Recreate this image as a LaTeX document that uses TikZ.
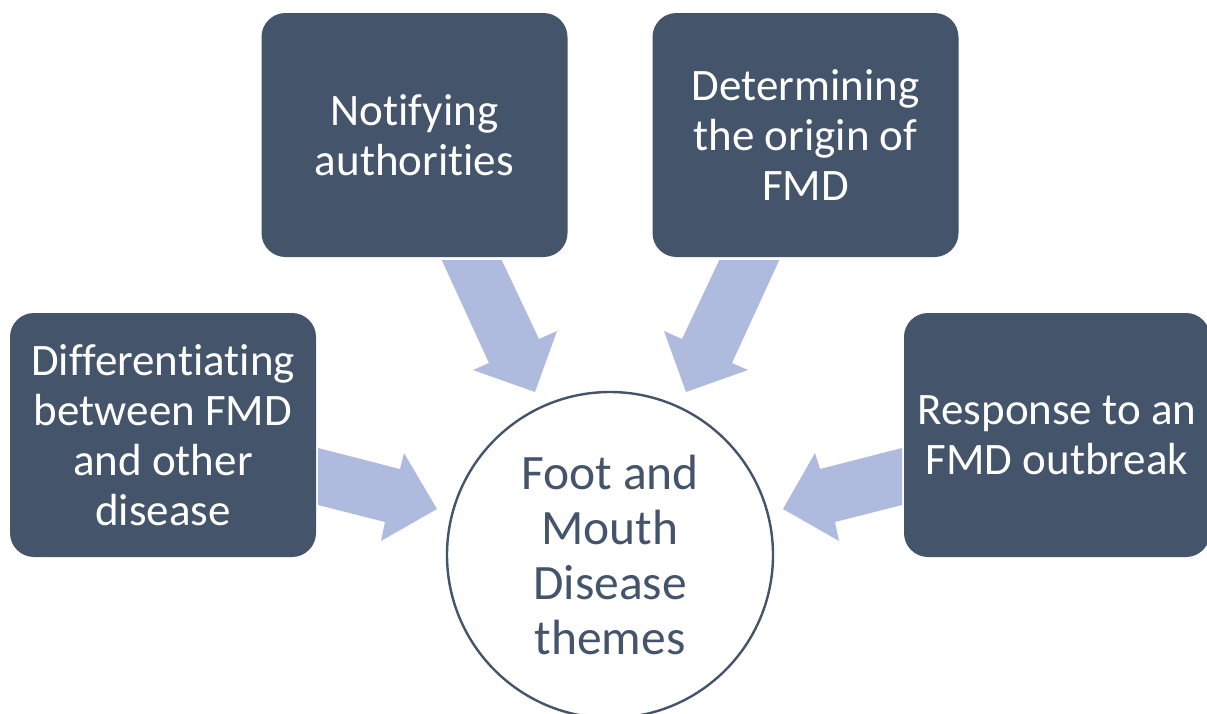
\documentclass[tikz,border=0pt]{standalone}
\usepackage{fontspec}
\setmainfont[Ligatures=NoCommon]{Carlito}
\definecolor{slate}{HTML}{44546A}
\definecolor{flow}{HTML}{AEBBDF}
\begin{document}
\begin{tikzpicture}[x=1pt,y=-1pt,
  theme/.style={fill=slate,draw=none,rounded corners=24pt,text=white,
    align=center,font=\fontsize{45}{50}\selectfont,
    minimum width=306pt,minimum height=244pt,inner sep=0pt},
  hub/.style={circle,draw=slate,line width=2.4pt,fill=white,text=slate,
    align=center,font=\fontsize{49.5}{55}\selectfont,
    minimum size=326pt,inner sep=0pt},
  flowarrow/.style={fill=flow,draw=none}]
\useasboundingbox (0,0) rectangle (1207,713);

% theme boxes
\node[theme] (notify) at (414.5,135) {Notifying\\authorities};
\node[theme] (origin) at (805.5,135) {Determining\\the origin of\\FMD};
\node[theme] (diff) at (163,435) {Differentiating\\between FMD\\and other\\disease};
\node[theme] (resp) at (1057,435) {Response to an\\FMD outbreak};

% central topic
\node[hub] (core) at (610,555) {Foot and\\Mouth\\Disease\\themes};

% block arrows pointing into the centre
\fill[flowarrow] (441.7,260) -- (501.7,260) -- (539,339) -- (557,331)
  -- (535,392) -- (473,370) -- (489,363) -- cycle;
\fill[flowarrow] (779.3,260) -- (719.3,260) -- (682,339) -- (664,331)
  -- (686,392) -- (748,370) -- (732,363) -- cycle;
\fill[flowarrow] (318,448) -- (400,469) -- (404,453) -- (437,509)
  -- (381,541) -- (385,522) -- (318,505) -- cycle;
\fill[flowarrow] (902,448) -- (820,469) -- (815,453) -- (783,509)
  -- (839,541) -- (835,522) -- (902,505) -- cycle;
\end{tikzpicture}
\end{document}
